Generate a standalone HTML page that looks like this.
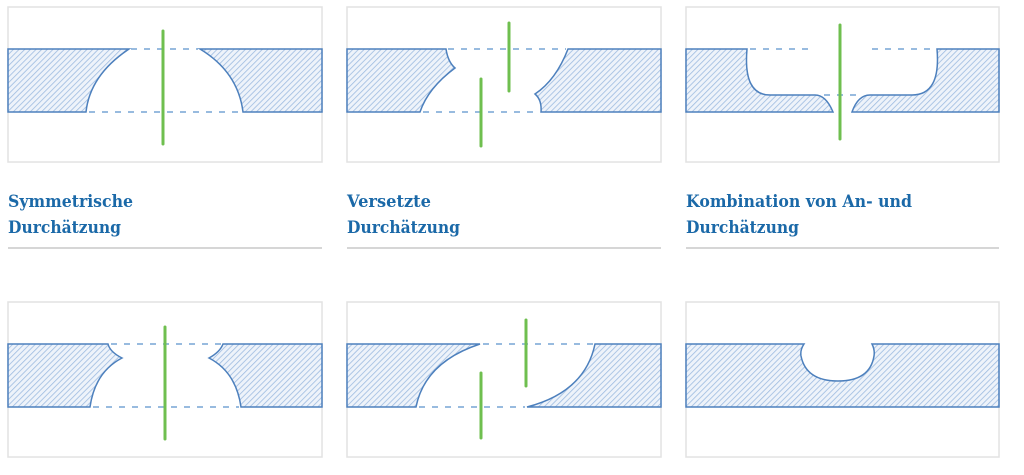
<!DOCTYPE html>
<html><head><meta charset="utf-8"><style>
html,body{margin:0;padding:0;background:#fff;width:1024px;height:475px;overflow:hidden}
svg{display:block}
text{font-family:"DejaVu Serif","Liberation Serif",serif;font-weight:bold;font-size:17px;fill:#1b69a8}
</style></head><body>
<svg width="1024" height="475" viewBox="0 0 1024 475" xmlns="http://www.w3.org/2000/svg">
<defs>
<pattern id="h" width="4" height="4" patternUnits="userSpaceOnUse" patternTransform="rotate(45)">
<rect width="4" height="4" fill="#eef3fa"/>
<line x1="0" y1="0" x2="0" y2="4" stroke="#9dbbe0" stroke-width="1.6"/>
</pattern>
</defs>
<g fill="none" stroke="#e2e2e2" stroke-width="1.5">
<rect x="8" y="7" width="314" height="155"/>
<rect x="347" y="7" width="314" height="155"/>
<rect x="686" y="7" width="313" height="155"/>
<rect x="8" y="302" width="314" height="155"/>
<rect x="347" y="302" width="314" height="155"/>
<rect x="686" y="302" width="313" height="155"/>
</g>
<g stroke="#c8c8c8" stroke-width="1.5">
<line x1="8" y1="248" x2="322" y2="248"/>
<line x1="347" y1="248" x2="661" y2="248"/>
<line x1="686" y1="248" x2="999" y2="248"/>
</g>
<text x="8" y="207" textLength="125" lengthAdjust="spacingAndGlyphs">Symmetrische</text>
<text x="8" y="233" textLength="113" lengthAdjust="spacingAndGlyphs">Durchätzung</text>
<text x="347" y="207" textLength="84" lengthAdjust="spacingAndGlyphs">Versetzte</text>
<text x="347" y="233" textLength="113" lengthAdjust="spacingAndGlyphs">Durchätzung</text>
<text x="686" y="207" textLength="226" lengthAdjust="spacingAndGlyphs">Kombination von An- und</text>
<text x="686" y="233" textLength="113" lengthAdjust="spacingAndGlyphs">Durchätzung</text>

<g fill="url(#h)" stroke="#4d80bd" stroke-width="1.5">
<path d="M8 49 H129 Q90 75 86 112 H8 Z"/>
<path d="M322 49 H200 Q238 72 243 112 H322 Z"/>
<path d="M347 49 H446 Q448 62 455 68 Q428 88 420 112 H347 Z"/>
<path d="M661 49 H568 Q556 80 535 94 Q542 100 541 112 H661 Z"/>
<path d="M686 49 H747 Q743 95 770 95 H815 Q826 95 833 112 H686 Z"/>
<path d="M999 49 H937 Q941 95 912 95 H870 Q858 95 852 112 H999 Z"/>
<path d="M8 344 H108 Q110 352 122 358 Q95 372 90 407 H8 Z"/>
<path d="M322 344 H223 Q220 352 209 358 Q236 372 241 407 H322 Z"/>
<path d="M347 344 H480 Q425 362 416 407 H347 Z"/>
<path d="M661 344 H595 Q585 392 527 407 H661 Z"/>
<path d="M686 344 H804 Q800 350 801 356 Q806 381 838 381 Q870 381 874 356 Q875 350 872 344 H999 V407 H686 Z"/>
</g>

<g stroke="#5b92cc" stroke-width="1.3" stroke-dasharray="6,7" fill="none">
<line x1="131" y1="49" x2="198" y2="49"/>
<line x1="89" y1="112" x2="241" y2="112"/>
<line x1="448" y1="49" x2="566" y2="49"/>
<line x1="423" y1="112" x2="539" y2="112"/>
<line x1="750" y1="49" x2="815" y2="49"/>
<line x1="872" y1="49" x2="935" y2="49"/>
<line x1="824" y1="95" x2="862" y2="95"/>
<line x1="111" y1="344" x2="221" y2="344"/>
<line x1="93" y1="407" x2="239" y2="407"/>
<line x1="483" y1="344" x2="593" y2="344"/>
<line x1="419" y1="407" x2="525" y2="407"/>
</g>

<g stroke="#6fbf4f" stroke-width="3" stroke-linecap="round">
<line x1="163" y1="31" x2="163" y2="144"/>
<line x1="509" y1="23" x2="509" y2="91"/>
<line x1="481" y1="79" x2="481" y2="146"/>
<line x1="840" y1="25" x2="840" y2="139"/>
<line x1="165" y1="327" x2="165" y2="439"/>
<line x1="526" y1="320" x2="526" y2="386"/>
<line x1="481" y1="373" x2="481" y2="438"/>
</g>
</svg>
</body></html>
